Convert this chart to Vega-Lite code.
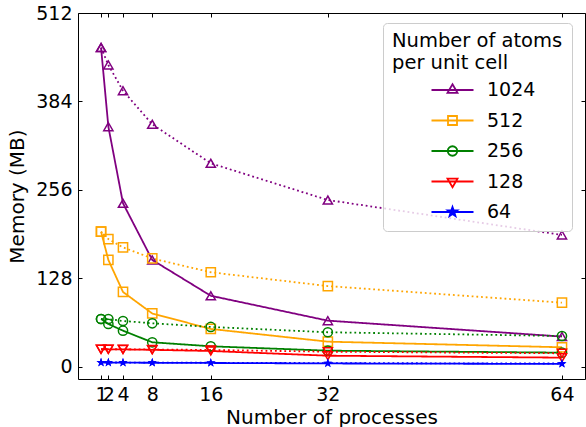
{
  "$schema": "https://vega.github.io/schema/vega-lite/v6.json",
  "width": 507,
  "height": 366,
  "autosize": "none",
  "padding": {"left": 78, "top": 13, "right": 1, "bottom": 48},
  "config": {
    "font": "DejaVu Sans",
    "view": {"stroke": "black", "strokeWidth": 1},
    "axis": {"grid": false, "domain": false, "labelFontSize": 19, "titleFontSize": 20, "labelColor": "black", "titleColor": "black", "tickColor": "black", "titleFontWeight": "normal", "labelFont": "DejaVu Sans", "titleFont": "DejaVu Sans"}
  },
  "data": {
    "values": [
      {"p": 1, "m": 462, "a": "1024", "s": "solid"},
      {"p": 2, "m": 347.5, "a": "1024", "s": "solid"},
      {"p": 4, "m": 236.8, "a": "1024", "s": "solid"},
      {"p": 8, "m": 154.8, "a": "1024", "s": "solid"},
      {"p": 16, "m": 103, "a": "1024", "s": "solid"},
      {"p": 32, "m": 67, "a": "1024", "s": "solid"},
      {"p": 64, "m": 44, "a": "1024", "s": "solid"},
      {"p": 1, "m": 462, "a": "1024", "s": "dotted"},
      {"p": 2, "m": 436.8, "a": "1024", "s": "dotted"},
      {"p": 4, "m": 399.6, "a": "1024", "s": "dotted"},
      {"p": 8, "m": 351, "a": "1024", "s": "dotted"},
      {"p": 16, "m": 294.6, "a": "1024", "s": "dotted"},
      {"p": 32, "m": 241.5, "a": "1024", "s": "dotted"},
      {"p": 64, "m": 191, "a": "1024", "s": "dotted"},
      {"p": 1, "m": 195.7, "a": "512", "s": "solid"},
      {"p": 2, "m": 154.8, "a": "512", "s": "solid"},
      {"p": 4, "m": 108.5, "a": "512", "s": "solid"},
      {"p": 8, "m": 77.4, "a": "512", "s": "solid"},
      {"p": 16, "m": 55, "a": "512", "s": "solid"},
      {"p": 32, "m": 36.6, "a": "512", "s": "solid"},
      {"p": 64, "m": 28.5, "a": "512", "s": "solid"},
      {"p": 1, "m": 195.7, "a": "512", "s": "dotted"},
      {"p": 2, "m": 185, "a": "512", "s": "dotted"},
      {"p": 4, "m": 173, "a": "512", "s": "dotted"},
      {"p": 8, "m": 157, "a": "512", "s": "dotted"},
      {"p": 16, "m": 137, "a": "512", "s": "dotted"},
      {"p": 32, "m": 117, "a": "512", "s": "dotted"},
      {"p": 64, "m": 93, "a": "512", "s": "dotted"},
      {"p": 1, "m": 69.4, "a": "256", "s": "solid"},
      {"p": 2, "m": 62.2, "a": "256", "s": "solid"},
      {"p": 4, "m": 52.5, "a": "256", "s": "solid"},
      {"p": 8, "m": 35.7, "a": "256", "s": "solid"},
      {"p": 16, "m": 29.9, "a": "256", "s": "solid"},
      {"p": 32, "m": 23.6, "a": "256", "s": "solid"},
      {"p": 64, "m": 20.7, "a": "256", "s": "solid"},
      {"p": 1, "m": 69.4, "a": "256", "s": "dotted"},
      {"p": 2, "m": 69.4, "a": "256", "s": "dotted"},
      {"p": 4, "m": 66.5, "a": "256", "s": "dotted"},
      {"p": 8, "m": 63.2, "a": "256", "s": "dotted"},
      {"p": 16, "m": 57.9, "a": "256", "s": "dotted"},
      {"p": 32, "m": 50.2, "a": "256", "s": "dotted"},
      {"p": 64, "m": 44.8, "a": "256", "s": "dotted"},
      {"p": 1, "m": 25.6, "a": "128", "s": "solid"},
      {"p": 2, "m": 25.6, "a": "128", "s": "solid"},
      {"p": 4, "m": 25.4, "a": "128", "s": "solid"},
      {"p": 8, "m": 24.8, "a": "128", "s": "solid"},
      {"p": 16, "m": 23.1, "a": "128", "s": "solid"},
      {"p": 32, "m": 16.3, "a": "128", "s": "solid"},
      {"p": 64, "m": 13.5, "a": "128", "s": "solid"},
      {"p": 1, "m": 25.6, "a": "128", "s": "dotted"},
      {"p": 2, "m": 25.6, "a": "128", "s": "dotted"},
      {"p": 4, "m": 25.6, "a": "128", "s": "dotted"},
      {"p": 8, "m": 25.3, "a": "128", "s": "dotted"},
      {"p": 16, "m": 24.6, "a": "128", "s": "dotted"},
      {"p": 32, "m": 22.1, "a": "128", "s": "dotted"},
      {"p": 64, "m": 19.8, "a": "128", "s": "dotted"},
      {"p": 1, "m": 6.3, "a": "64", "s": "solid"},
      {"p": 2, "m": 6.3, "a": "64", "s": "solid"},
      {"p": 4, "m": 6.2, "a": "64", "s": "solid"},
      {"p": 8, "m": 6.1, "a": "64", "s": "solid"},
      {"p": 16, "m": 5.8, "a": "64", "s": "solid"},
      {"p": 32, "m": 5.1, "a": "64", "s": "solid"},
      {"p": 64, "m": 4.4, "a": "64", "s": "solid"},
      {"p": 1, "m": 6.5, "a": "64", "s": "dotted"},
      {"p": 2, "m": 6.5, "a": "64", "s": "dotted"},
      {"p": 4, "m": 6.4, "a": "64", "s": "dotted"},
      {"p": 8, "m": 6.3, "a": "64", "s": "dotted"},
      {"p": 16, "m": 6.1, "a": "64", "s": "dotted"},
      {"p": 32, "m": 5.6, "a": "64", "s": "dotted"},
      {"p": 64, "m": 5.0, "a": "64", "s": "dotted"}
    ]
  },
  "resolve": {
    "scale": {"shape": "independent", "fill": "independent", "stroke": "independent", "color": "independent"},
    "axis": {"x": "independent", "y": "independent"}
  },
  "layer": [
    {
      "mark": {"type": "line", "strokeWidth": 1.8},
      "encoding": {
        "x": {"field": "p", "type": "quantitative", "scale": {"domain": [-2.15, 67.15], "nice": false, "zero": false},
          "axis": {"orient": "bottom", "values": [1, 2, 4, 8, 16, 32, 64], "labelOverlap": false, "tickSize": -4, "labelPadding": 10, "title": "Number of processes", "titleY": 44, "titleBaseline": "alphabetic"}},
        "y": {"field": "m", "type": "quantitative", "scale": {"domain": [-17.4, 512], "nice": false, "zero": false},
          "axis": {"orient": "left", "values": [0, 128, 256, 384, 512], "tickSize": -4, "labelPadding": 10, "title": "Memory (MB)", "titlePadding": 8}},
        "color": {"field": "a", "type": "nominal", "legend": null,
          "scale": {"domain": ["1024", "512", "256", "128", "64"], "range": ["#800080", "#FFA500", "#008000", "#FF0000", "#0000FF"]}},
        "strokeDash": {"field": "s", "type": "nominal", "legend": null,
          "scale": {"domain": ["solid", "dotted"], "range": [[1, 0], [1.8, 2.9]]}}
      }
    },
    {
      "transform": [{"filter": "datum.a !== '64'"}],
      "mark": {"type": "point", "filled": false, "size": 85, "strokeWidth": 1.5, "opacity": 1},
      "encoding": {
        "x": {"field": "p", "type": "quantitative", "scale": {"domain": [-2.15, 67.15], "nice": false, "zero": false},
          "axis": {"orient": "top", "values": [1, 2, 4, 8, 16, 32, 64], "labels": false, "tickSize": -4, "title": null}},
        "y": {"field": "m", "type": "quantitative", "scale": {"domain": [-17.4, 512], "nice": false, "zero": false},
          "axis": {"orient": "right", "values": [0, 128, 256, 384, 512], "labels": false, "tickSize": -4, "title": null}},
        "color": {"field": "a", "type": "nominal", "legend": null,
          "scale": {"domain": ["1024", "512", "256", "128", "64"], "range": ["#800080", "#FFA500", "#008000", "#FF0000", "#0000FF"]}},
        "shape": {"field": "a", "type": "nominal", "legend": null,
          "scale": {"domain": ["1024", "512", "256", "128", "64"], "range": ["triangle-up", "square", "circle", "triangle-down", "circle"]}}
      }
    },
    {
      "transform": [{"filter": "datum.a === '64'"}],
      "mark": {"type": "point", "filled": true, "size": 90, "color": "#0000FF", "opacity": 1,
        "shape": "M0,-1L0.235,-0.324L0.951,-0.309L0.38,0.124L0.588,0.809L0,0.4L-0.588,0.809L-0.38,0.124L-0.951,-0.309L-0.235,-0.324Z"},
      "encoding": {
        "x": {"field": "p", "type": "quantitative", "scale": {"domain": [-2.15, 67.15], "nice": false, "zero": false}, "axis": null},
        "y": {"field": "m", "type": "quantitative", "scale": {"domain": [-17.4, 512], "nice": false, "zero": false}, "axis": null}
      }
    },
    {
      "transform": [{"filter": "datum.m < -1000"}],
      "mark": {"type": "point", "filled": false, "strokeWidth": 1.8, "opacity": 1},
      "encoding": {
        "x": {"field": "p", "type": "quantitative", "scale": {"domain": [-2.15, 67.15], "nice": false, "zero": false}, "axis": null},
        "y": {"field": "m", "type": "quantitative", "scale": {"domain": [-17.4, 512], "nice": false, "zero": false}, "axis": null},
        "stroke": {"field": "a", "type": "nominal",
          "scale": {"domain": ["1024", "512", "256", "128", "64"], "range": ["#800080", "#FFA500", "#008000", "#FF0000", "#0000FF"]},
          "legend": {"title": ["Number of atoms", "per unit cell"]}},
        "fill": {"field": "a", "type": "nominal",
          "scale": {"domain": ["1024", "512", "256", "128", "64"], "range": ["transparent", "transparent", "transparent", "transparent", "#0000FF"]},
          "legend": {"title": ["Number of atoms", "per unit cell"]}},
        "shape": {"field": "a", "type": "nominal",
          "scale": {"domain": ["1024", "512", "256", "128", "64"], "range": [
            "M-4.2,0H4.2M0,-1.15L1,0.58L-1,0.58Z",
            "M-4.2,0H4.2M-0.9,-0.9H0.9V0.9H-0.9Z",
            "M-4.2,0H4.2M0.95,0A0.95,0.95,0,1,1,-0.95,0A0.95,0.95,0,1,1,0.95,0Z",
            "M-4.2,0H4.2M0,1.15L1,-0.58L-1,-0.58Z",
            "M-4.2,0H4.2M0,-1L0.235,-0.324L0.951,-0.309L0.38,0.124L0.588,0.809L0,0.4L-0.588,0.809L-0.38,0.124L-0.951,-0.309L-0.235,-0.324Z"]},
          "legend": {
            "title": ["Number of atoms", "per unit cell"],
            "orient": "none", "legendX": 305, "legendY": 10,
            "padding": 9, "strokeColor": "#cccccc", "fillColor": "rgba(255,255,255,0.8)", "cornerRadius": 4,
            "titleFontSize": 19.5, "titleFontWeight": "normal", "titleColor": "black", "titleLineHeight": 22, "titlePadding": 7, "titleFont": "DejaVu Sans",
            "labelFontSize": 19, "labelColor": "black", "labelFont": "DejaVu Sans", "labelOffset": 25,
            "symbolSize": 100, "symbolOffset": 51, "symbolStrokeWidth": 1.8, "rowPadding": 10.5
          }}
      }
    }
  ]
}
